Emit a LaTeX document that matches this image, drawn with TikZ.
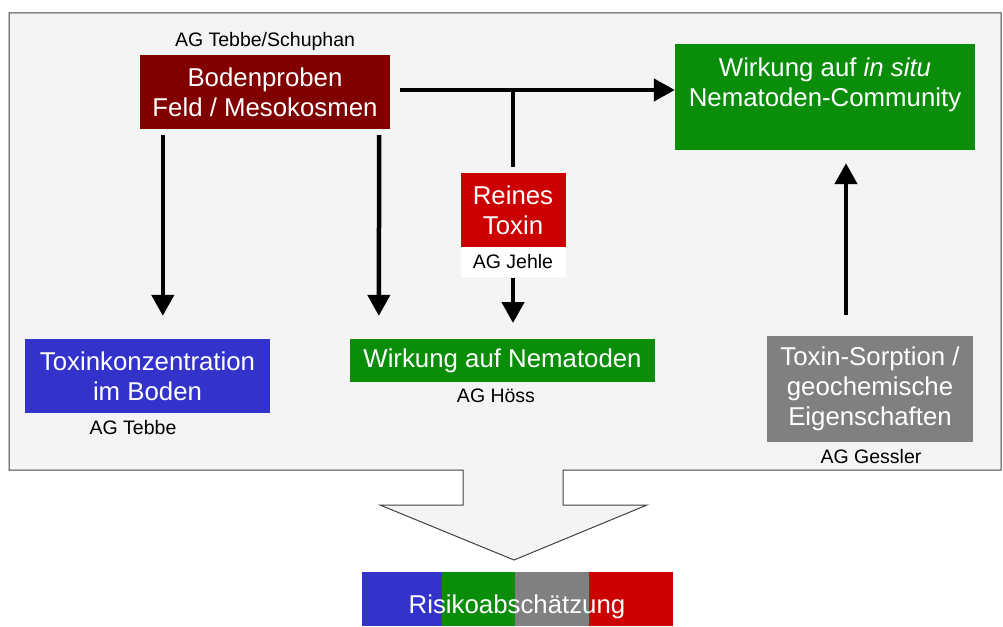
\documentclass[tikz,border=0pt]{standalone}
\usepackage{fontspec}
\setmainfont{Liberation Sans}
\usetikzlibrary{arrows.meta}
\definecolor{panel}{HTML}{F4F4F4}
\definecolor{pborder}{HTML}{404040}
\definecolor{dred}{HTML}{800000}
\definecolor{bred}{HTML}{CC0000}
\definecolor{bgreen}{HTML}{0A8E0A}
\definecolor{bblue}{HTML}{3333CC}
\definecolor{bgray}{HTML}{808080}
\tikzset{
  box/.style={rectangle, inner sep=0pt, text=white, align=center,
    font=\fontsize{25.8}{30}\selectfont},
  lbl/.style={inner sep=0pt, font=\fontsize{19.5}{22}\selectfont, text=black},
  arr/.style={line width=4.5pt, -{Triangle[width=22pt,length=21pt]}},
  plain/.style={line width=4.5pt},
}
\begin{document}
\begin{tikzpicture}[x=1pt,y=-1pt]
\useasboundingbox (0,0) rectangle (1003,626);
% panel merged with big arrow
\draw[fill=panel, draw=pborder, line width=1pt]
  (9,13) -- (1001,13) -- (1001,470) -- (563,470) -- (563,505) -- (647,505)
  -- (514,560) -- (380,505) -- (463,505) -- (463,470) -- (9,470) -- cycle;

% boxes
\node[box, fill=dred, minimum width=250pt, minimum height=74pt] (bp) at (265,92) {Bodenproben\\Feld / Mesokosmen};
\node[lbl] (lbp) at (265,41) {AG Tebbe/Schuphan};

\node[box, fill=bred, minimum width=105pt, minimum height=74pt] (rt) at (513,210) {Reines\\Toxin};
\node[lbl, fill=white, minimum width=105pt, minimum height=30pt] (jehle) at (513,262) {AG Jehle};

\node[box, fill=bgreen, minimum width=300pt, minimum height=106pt] (gt) at (825,97) {Wirkung auf \textit{in situ}\\Nematoden-Community\\\mbox{}};

\node[box, fill=bblue, minimum width=245pt, minimum height=74pt] (tox) at (147.5,376) {Toxinkonzentration\\im Boden};
\node[lbl] (ltox) at (133,428) {AG Tebbe};

\node[box, fill=bgreen, minimum width=305pt, minimum height=43pt] (gm) at (502.5,360.5) {Wirkung auf Nematoden};
\node[lbl] (lgm) at (496,396) {AG Höss};

\node[box, fill=bgray, minimum width=206pt, minimum height=106pt] (gr) at (870,389) {Toxin-Sorption /\\geochemische\\Eigenschaften};
\node[lbl] (lgr) at (871,457) {AG Gessler};

% risk bar
\fill[bblue] (362,572) rectangle (442,626);
\fill[bgreen] (442,572) rectangle (515,626);
\fill[bgray] (515,572) rectangle (589,626);
\fill[bred] (589,572) rectangle (673,626);
\node[box] (risk) at (517,607) {Risikoabschätzung};

% connectors
\coordinate (j) at (513,90);
\coordinate (jt) at (513,323);
\draw[arr] ([xshift=23pt,yshift=-6pt]bp.south west) -- ([xshift=138pt,yshift=23pt]tox.north west);
\draw[arr] ([xshift=-11pt,yshift=-6pt]bp.south east) -- ([xshift=29pt,yshift=23pt]gm.north west);
\draw[arr] ([xshift=10pt,yshift=2pt]bp.east) -- ([yshift=7pt]gt.west);
\draw[plain] ([yshift=6pt]rt.north) -- (j);
\draw[arr] ([yshift=-1pt]jehle.south) -- (jt);
\draw[arr] ([xshift=-24pt,yshift=21pt]gr.north) -- ([xshift=21pt,yshift=-13pt]gt.south);
\end{tikzpicture}
\end{document}
